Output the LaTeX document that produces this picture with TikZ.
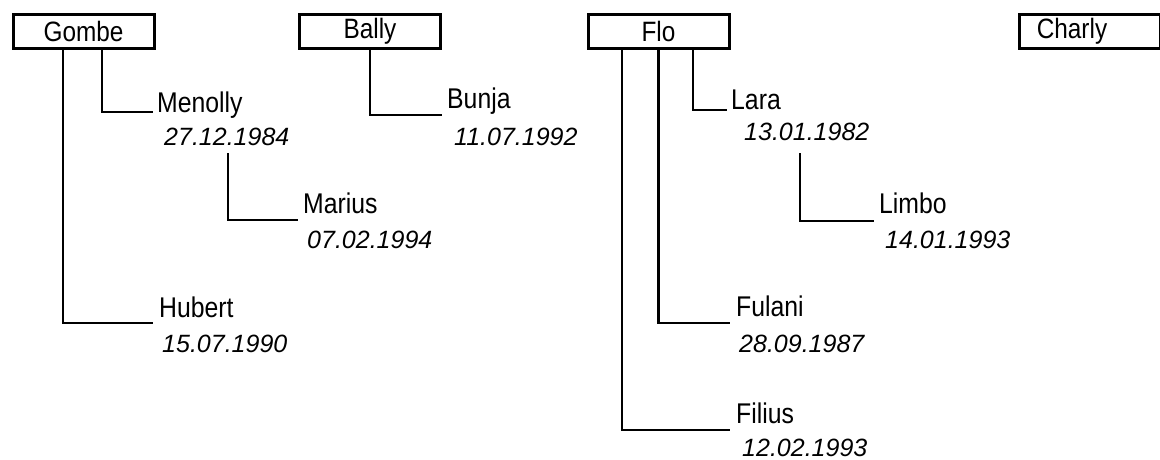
\documentclass[tikz,border=0pt]{standalone}
\usepackage{fontspec}
\setmainfont{Liberation Sans}
\newfontfamily\namefont{Liberation Sans}[FakeStretch=0.87]
\usetikzlibrary{calc}
\begin{document}
\begin{tikzpicture}[x=1pt,y=-1pt,
  parentbox/.style={draw,line width=3pt,minimum width=141pt,minimum height=34pt,inner sep=0pt,font=\namefont\fontsize{28}{30}\selectfont},
  nm/.style={anchor=base west,inner sep=0pt,font=\namefont\fontsize{28.5}{30}\selectfont},
  dt/.style={anchor=base west,inner sep=0pt,font=\fontsize{25}{28}\selectfont\itshape},
  conn/.style={line width=2.2pt}]
\useasboundingbox (0,0) rectangle (1160,460);
\begin{scope}
\clip (0,0) rectangle (1160,460);
% parents
\node[parentbox] (gombe) at (83.5,31.5) {Gombe};
\node[parentbox] (bally) at (370,31.5) {Bally};
\node[parentbox] (flo) at (658.5,31.5) {Flo};
\node[parentbox] (charly) at (1089.5,31.5) {};
\node[parentbox,draw=none,anchor=center] (charlytext) at (1072,31.5) {Charly};
% children
\node[nm] (menolly) at (157,112) {Menolly};
\node[dt] (menollyd) at (164,145) {27.12.1984};
\node[nm] (marius) at (303,213) {Marius};
\node[dt] (mariusd) at (307,248) {07.02.1994};
\node[nm] (hubert) at (159,317) {Hubert};
\node[dt] (hubertd) at (162,352) {15.07.1990};
\node[nm] (bunja) at (447,108) {Bunja};
\node[dt] (bunjad) at (454,145) {11.07.1992};
\node[nm] (lara) at (731,110) {Lara};
\node[dt] (larad) at (744,140) {13.01.1982};
\node[nm] (limbo) at (879,213) {Limbo};
\node[dt] (limbod) at (885,248) {14.01.1993};
\node[nm] (fulani) at (736,316) {Fulani};
\node[dt] (fulanid) at (739,352) {28.09.1987};
\node[nm] (filius) at (736,423) {Filius};
\node[dt] (filiusd) at (742,456) {12.02.1993};
% connectors
\draw[conn] (gombe.south -| 102,0) |- ($(menolly.base west)+(-4,0)$);
\draw[conn] (gombe.south -| 63,0) |- ($(hubert.base west)+(-6,6)$);
\draw[conn] ($(menollyd.base west)+(64,8)$) |- ($(marius.base west)+(-5,7)$);
\draw[conn] (bally.south) |- ($(bunja.base west)+(-5,7)$);
\draw[conn] (flo.south -| 693,0) |- ($(lara.base west)+(-4,0)$);
\draw[conn] ($(larad.base west)+(56,13)$) |- ($(limbo.base west)+(-5,8)$);
\draw[conn] (flo.south) |- ($(fulani.base west)+(-6,7)$);
\draw[conn] (flo.south -| 622,0) |- ($(filius.base west)+(-6,7)$);
\end{scope}
\end{tikzpicture}
\end{document}
